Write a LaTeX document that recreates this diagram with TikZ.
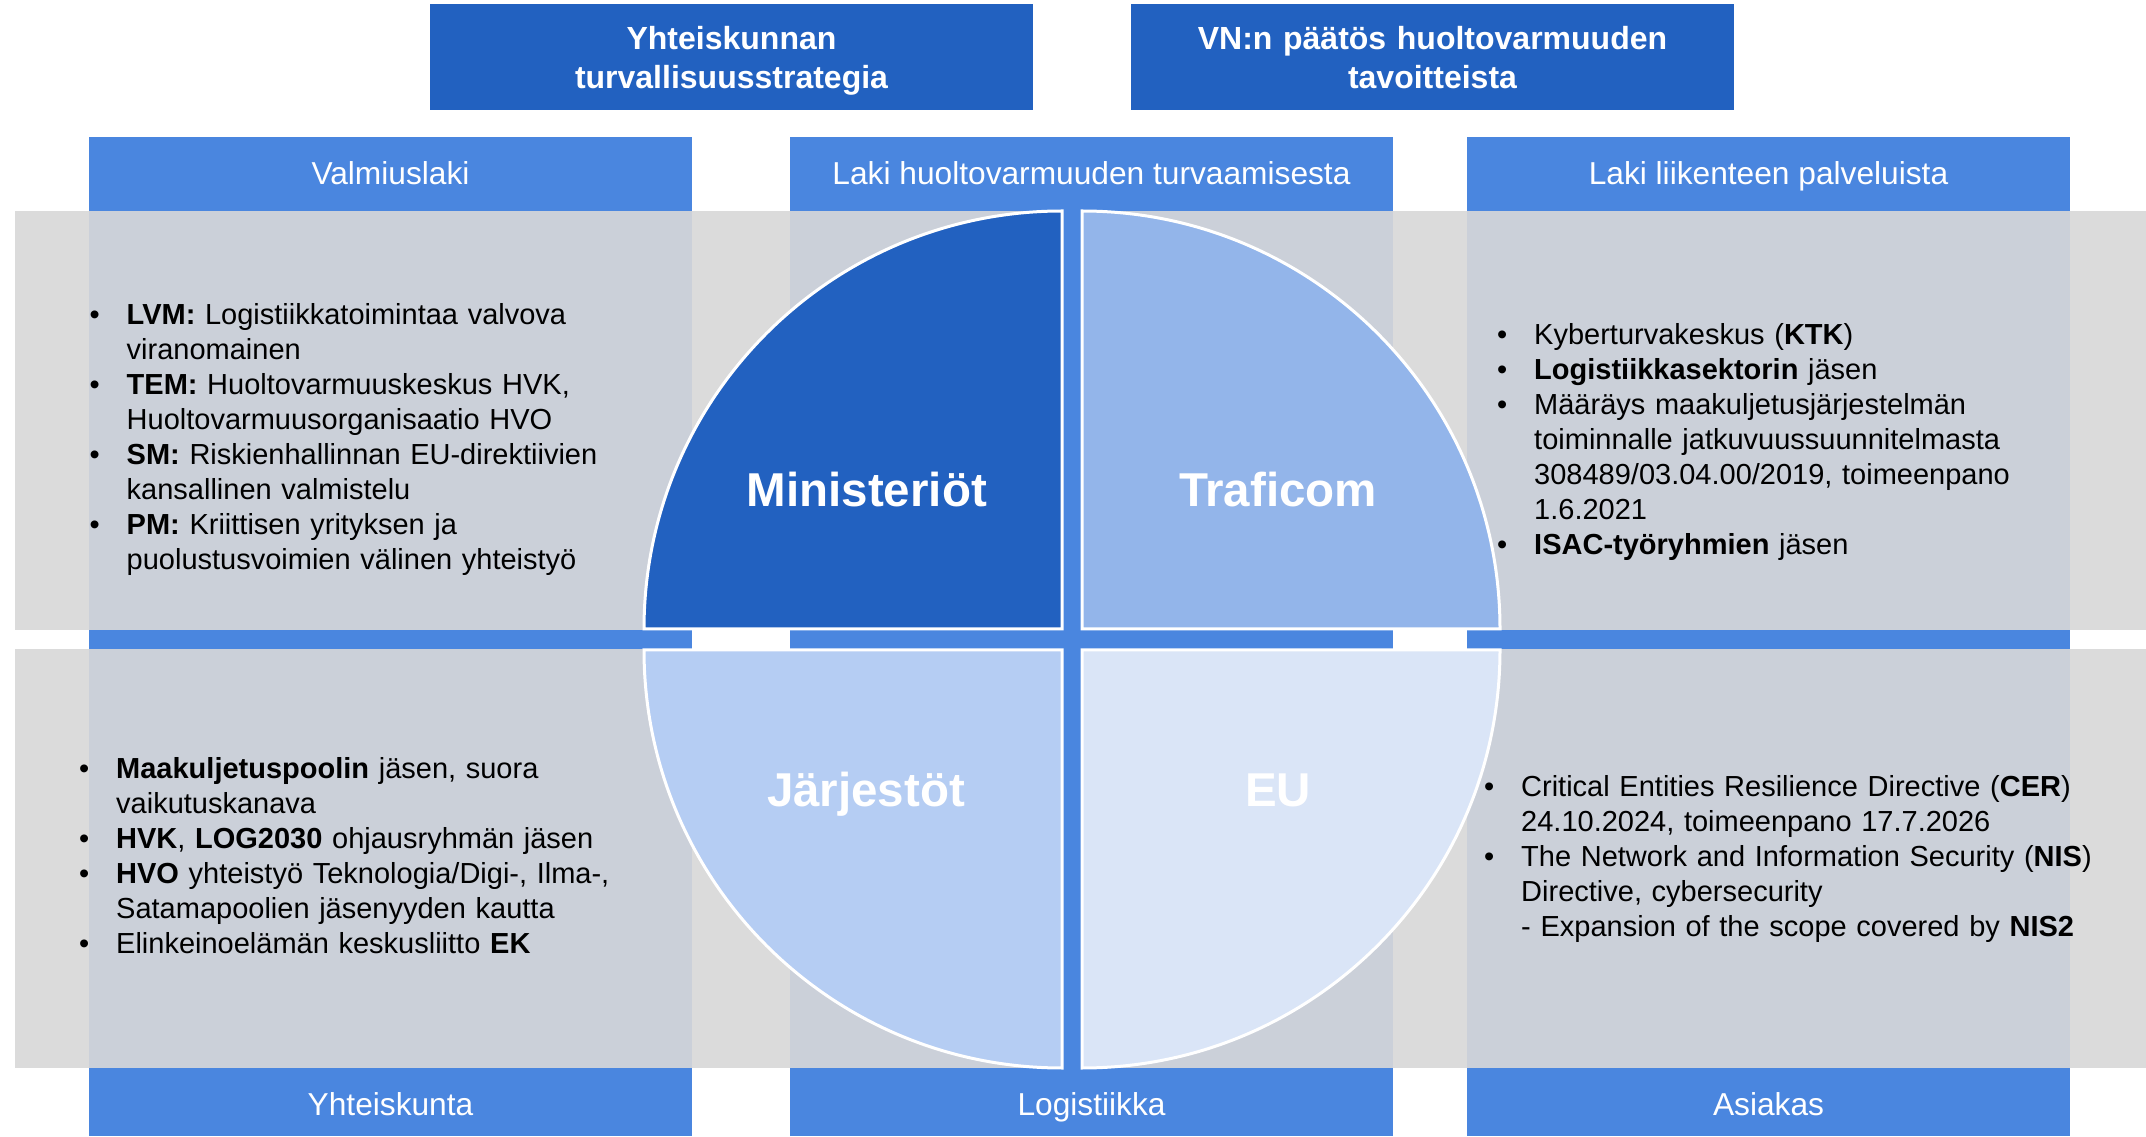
\documentclass[tikz,border=0pt]{standalone}
\usepackage{fontspec}
\setmainfont{Liberation Sans}
\definecolor{dblue}{HTML}{2261C0}
\definecolor{mblue}{HTML}{4A86DF}
\definecolor{gout}{HTML}{DBDBDB}
\definecolor{gin}{HTML}{CBD0D9}
\definecolor{qtr}{HTML}{93B5EA}
\definecolor{qbl}{HTML}{B5CDF3}
\definecolor{qbr}{HTML}{DAE5F7}
\newcommand{\bitem}[1]{\noindent\hangindent=37pt\hangafter=1\makebox[37pt][l]{•}#1\par}
\tikzset{
  topbox/.style={fill=dblue},
  colbar/.style={fill=mblue},
  toptext/.style={text=white, font=\bfseries\fontsize{32}{38.4}\selectfont, text width=590pt, align=center, anchor=base, inner sep=0pt},
  headtext/.style={text=white, font=\fontsize{31.7}{38}\selectfont, anchor=base, inner sep=0pt},
  quadlabel/.style={text=white, font=\bfseries\fontsize{47.5}{57}\selectfont, anchor=base, inner sep=0pt},
  listtext/.style={text=black, font=\fontsize{29}{35}\selectfont, text width=720pt, anchor=base west, inner sep=0pt},
  quad/.style={draw=white, line width=3pt}
}
\begin{document}
\begin{tikzpicture}[x=1pt,y=1pt]
\useasboundingbox (0,0) rectangle (2146,1136);
\fill[white] (0,0) rectangle (2146,1136);
% top boxes
\fill[topbox] (430,1026) rectangle (1033,1132);
\fill[topbox] (1131,1026) rectangle (1734,1132);
\node[toptext] (t1) at (731.5,1086) {Yhteiskunnan\\turvallisuusstrategia};
\node[toptext] (t2) at (1432.5,1086) {VN:n päätös huoltovarmuuden\\tavoitteista};
% columns
\fill[colbar] (89,0) rectangle (692,999);
\fill[colbar] (790,0) rectangle (1393,999);
\fill[colbar] (1467,0) rectangle (2070,999);
% grey bands
\fill[gout] (15,506) rectangle (2146,925);
\fill[gout] (15,68) rectangle (2146,487);
\foreach \a/\b in {89/692,790/1393,1467/2070}{
  \fill[gin] (\a,506) rectangle (\b,925);
  \fill[gin] (\a,68) rectangle (\b,487);
}
% vertical bar
\fill[mblue] (1062,68) rectangle (1082,925);
% quadrants
\path[quad, fill=dblue] (1062,507) -- (644,507) arc[start angle=180, end angle=90, radius=418pt] -- cycle;
\path[quad, fill=qtr] (1082,507) -- (1082,925) arc[start angle=90, end angle=0, radius=418pt] -- cycle;
\path[quad, fill=qbl] (1062,486) -- (1062,68) arc[start angle=270, end angle=180, radius=418pt] -- cycle;
\path[quad, fill=qbr] (1082,486) -- (1500,486) arc[start angle=0, end angle=-90, radius=418pt] -- cycle;
% quadrant labels
\node[quadlabel] (q1) at (866.8,629) {Ministeriöt};
\node[quadlabel] (q2) at (1278,629) {Traficom};
\node[quadlabel] (q3) at (866,330) {Järjestöt};
\node[quadlabel] (q4) at (1278,330) {EU};
% headers
\node[headtext] (h1) at (390.5,951) {Valmiuslaki};
\node[headtext] (h2) at (1091.5,951) {Laki huoltovarmuuden turvaamisesta};
\node[headtext] (h3) at (1768.5,951) {Laki liikenteen palveluista};
\node[headtext] (f1) at (390.5,21) {Yhteiskunta};
\node[headtext] (f2) at (1091.5,21) {Logistiikka};
\node[headtext] (f3) at (1768.5,21) {Asiakas};
% lists
\node[listtext] (l1) at (89.5,811) {%
\bitem{\textbf{LVM:} Logistiikkatoimintaa valvova\newline viranomainen}%
\bitem{\textbf{TEM:} Huoltovarmuuskeskus HVK,\newline Huoltovarmuusorganisaatio HVO}%
\bitem{\textbf{SM:} Riskienhallinnan EU-direktiivien\newline kansallinen valmistelu}%
\bitem{\textbf{PM:} Kriittisen yrityksen ja\newline puolustusvoimien välinen yhteistyö}};
\node[listtext] (l2) at (1497,791) {%
\bitem{Kyberturvakeskus (\textbf{KTK})}%
\bitem{\textbf{Logistiikkasektorin} jäsen}%
\bitem{Määräys maakuljetusjärjestelmän\newline toiminnalle jatkuvuussuunnitelmasta\newline 308489/03.04.00/2019, toimeenpano\newline 1.6.2021}%
\bitem{\textbf{ISAC-työryhmien} jäsen}};
\node[listtext] (l3) at (79,357.7) {%
\bitem{\textbf{Maakuljetuspoolin} jäsen, suora\newline vaikutuskanava}%
\bitem{\textbf{HVK}, \textbf{LOG2030} ohjausryhmän jäsen}%
\bitem{\textbf{HVO} yhteistyö Teknologia/Digi-, Ilma-,\newline Satamapoolien jäsenyyden kautta}%
\bitem{Elinkeinoelämän keskusliitto \textbf{EK}}};
\node[listtext] (l4) at (1484,340) {%
\bitem{Critical Entities Resilience Directive (\textbf{CER})\newline 24.10.2024, toimeenpano 17.7.2026}%
\bitem{The Network and Information Security (\textbf{NIS})\newline Directive, cybersecurity\newline - Expansion of the scope covered by \textbf{NIS2}}};
\end{tikzpicture}
\end{document}
